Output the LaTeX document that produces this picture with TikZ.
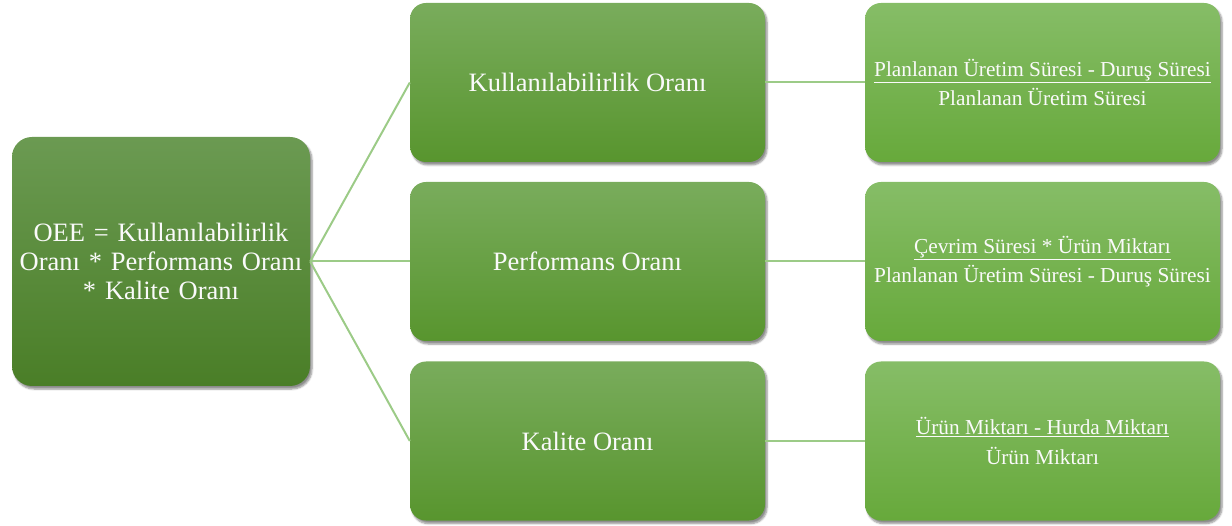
\documentclass[tikz,border=0pt]{standalone}
\usepackage{fontspec}
\setmainfont{Liberation Serif}
\usetikzlibrary{shadows.blur}
\definecolor{roottop}{HTML}{6B9A52}
\definecolor{rootbot}{HTML}{4A7E27}
\definecolor{midtop}{HTML}{79AC5C}
\definecolor{midbot}{HTML}{58952E}
\definecolor{righttop}{HTML}{86BD67}
\definecolor{rightbot}{HTML}{67A93B}
\definecolor{linkgreen}{HTML}{9CCB87}
\definecolor{labelwhite}{HTML}{FAFAFA}
\tikzset{
  card/.style={rounded corners=16pt, inner sep=0pt, align=center,
    text=labelwhite, blur shadow={shadow xshift=2pt, shadow yshift=-3pt,
    shadow blur steps=6, shadow opacity=45}},
  rootbox/.style={card, rounded corners=20pt, minimum width=298pt, minimum height=249pt,
    text width=296pt, top color=roottop, bottom color=rootbot,
    font=\fontsize{26.5}{29}\selectfont},
  midbox/.style={card, minimum width=355pt, minimum height=159pt,
    top color=midtop, bottom color=midbot, font=\fontsize{26.5}{30}\selectfont},
  formbox/.style={card, minimum width=355pt, minimum height=159pt,
    top color=righttop, bottom color=rightbot, font=\fontsize{21.3}{29.5}\selectfont},
  link/.style={draw=linkgreen, line width=2pt}
}
\begin{document}
\begin{tikzpicture}[x=1pt,y=-1pt]
\useasboundingbox (0,0) rectangle (1232,526);

% root formula
\node[rootbox] (oee) at (161,261.5) {OEE = Kullanılabilirlik\\Oranı * Performans Oranı\\{}* Kalite Oranı};

% factor boxes
\node[midbox] (kul) at (587.5,82.5) {Kullanılabilirlik Oranı};
\node[midbox] (per) at (587.5,261.5) {Performans Oranı};
\node[midbox] (kal) at (587.5,441) {Kalite Oranı};

% formula boxes
\node[formbox] (fkul) at (1042.5,82.5) {\underline{Planlanan Üretim Süresi - Duruş Süresi}\\Planlanan Üretim Süresi};
\node[formbox] (fper) at (1042.5,261.5) {\underline{Çevrim Süresi * Ürün Miktarı}\\Planlanan Üretim Süresi - Duruş Süresi};
\node[formbox] (fkal) at (1042.5,441) {\underline{Ürün Miktarı - Hurda Miktarı}\\Ürün Miktarı};

% connectors
\draw[link] (oee.east) -- (kul.west);
\draw[link] (oee.east) -- (per.west);
\draw[link] (oee.east) -- (kal.west);
\draw[link] (kul.east) -- (fkul.west);
\draw[link] (per.east) -- (fper.west);
\draw[link] (kal.east) -- (fkal.west);
\end{tikzpicture}
\end{document}
